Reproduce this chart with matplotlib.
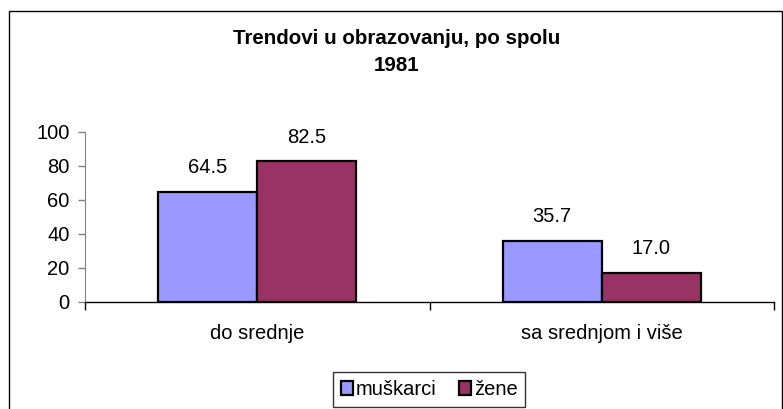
import numpy as np
import matplotlib.pyplot as plt
from matplotlib.patches import Rectangle

plt.rcParams['font.family'] = ['Liberation Sans', 'DejaVu Sans']

categories = ['do srednje', 'sa srednjom i više']
series = ['muškarci', 'žene']
muskarci = [64.5, 35.7]
zene = [82.5, 17.0]
colors = ['#9999FF', '#993366']

W, H = 783, 409
fig = plt.figure(figsize=(W / 100, H / 100), dpi=100)
ax = fig.add_axes([85 / W, 1 - 301.7 / H, (774 - 85) / W, (301.7 - 131.7) / H])

fs = 14.5
x = np.arange(len(categories))
bw = 0.2875
for i, (vals, c, name) in enumerate(zip([muskarci, zene], colors, series)):
    pos = x + (i - 0.5) * bw
    ax.bar(pos, vals, width=bw, color=c, edgecolor='black', linewidth=1.6, label=name, zorder=3)
    for px, v in zip(pos, vals):
        ax.annotate(f'{v:.1f}', xy=(px, v), xytext=(0, 17.5), textcoords='offset points',
                    ha='center', va='center', fontsize=fs)

ax.set_xlim(-0.5, 1.5)
ax.set_ylim(0, 100)
ax.set_yticks(range(0, 101, 20))
ax.set_xticks([-0.5, 0.5, 1.5])
ax.set_xticklabels([])
ax.set_xticks(x, minor=True)
ax.set_xticklabels(categories, minor=True, fontsize=fs)
ax.tick_params(axis='x', which='minor', length=0, pad=16)
ax.tick_params(axis='x', which='major', length=6, width=1, color='black', direction='out')
ax.tick_params(axis='y', length=5, width=1, color='#808080', labelsize=fs, pad=6)

for s in ['top', 'right']:
    ax.spines[s].set_visible(False)
ax.spines['left'].set_color('#808080')
ax.spines['bottom'].set_color('black')
ax.spines['bottom'].set_linewidth(1)
ax.patch.set_alpha(0)

fig.text(397 / W, 1 - 52 / H, 'Trendovi u obrazovanju, po spolu\n1981', ha='center', va='center',
         fontsize=14.8, fontweight='bold', linespacing=1.55)

leg = fig.legend(loc='center', bbox_to_anchor=(429 / W, 1 - 389.5 / H), ncol=2, fontsize=fs,
                 frameon=True, fancybox=False, edgecolor='black', handlelength=0.6,
                 handleheight=0.75, handletextpad=0.15, columnspacing=1.1, borderpad=0.4,
                 borderaxespad=0)
leg.get_frame().set_linewidth(1)

fig.patches.append(Rectangle((9 / W, -0.1), (782 - 9) / W, 1.1 - 10.7 / H, transform=fig.transFigure,
                             fill=False, edgecolor='black', linewidth=1))

fig.savefig('out.png', dpi=100)
